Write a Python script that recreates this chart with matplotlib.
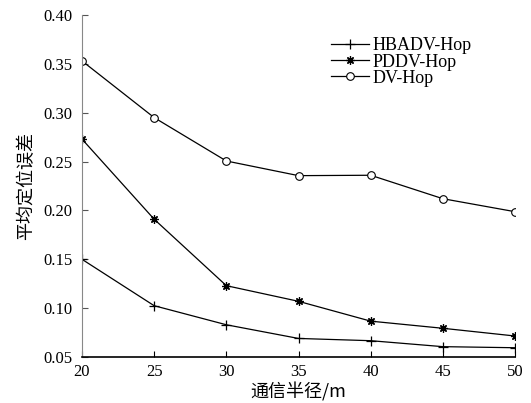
import matplotlib
matplotlib.use("Agg")
import matplotlib.pyplot as plt

# communication radius (m)
radius = [20, 25, 30, 35, 40, 45, 50]

# average localization error
hbadv_hop = [0.150, 0.1025, 0.083, 0.069, 0.0667, 0.0606, 0.0595]
pddv_hop = [0.273, 0.191, 0.123, 0.107, 0.0867, 0.0794, 0.0715]
dv_hop = [0.353, 0.295, 0.2506, 0.2356, 0.236, 0.212, 0.1987]

yticks = [0.05, 0.10, 0.15, 0.20, 0.25, 0.30, 0.35, 0.40]

plt.rcParams['font.family'] = ['Liberation Serif', 'Noto Sans CJK SC']

fig = plt.figure(figsize=(5.31, 4.03), dpi=100)
ax = fig.add_axes([0.1544, 0.1141, 0.8156, 0.8487])

ax.plot(radius, hbadv_hop, color="black", lw=0.9, marker="+", ms=6.5, mew=0.9, label="HBADV-Hop")
ax.plot(radius, pddv_hop, color="black", lw=0.9, marker=(8, 2, 0), ms=6, mew=0.9, label="PDDV-Hop")
ax.plot(radius, dv_hop, color="black", lw=0.9, marker="o", ms=5.5, mfc="white", mew=0.8, label="DV-Hop")

ax.set_xlim(20, 50)
ax.set_ylim(0.05, 0.40)
ax.set_xticks(radius)
ax.set_yticks(yticks)
ax.set_yticklabels(["%.2f" % v for v in yticks])

# only left and bottom axes, ticks pointing inward
ax.spines["top"].set_visible(False)
ax.spines["right"].set_visible(False)
ax.spines["left"].set_color("#888888")
ax.spines["bottom"].set_linewidth(1.2)
ax.tick_params(direction="in", length=4, labelsize=12, colors="black")
ax.tick_params(axis="y", color="#555555", pad=7)
ax.tick_params(axis="x", pad=5)

ax.set_xlabel("通信半径/m", fontsize=13, family=['Noto Sans CJK SC'], labelpad=1.5)
ax.set_ylabel("平均定位误差", fontsize=13, family=['Noto Sans CJK SC'], labelpad=6)

ax.legend(loc="upper right", bbox_to_anchor=(0.90, 0.935), frameon=False, fontsize=13,
          handlelength=2.1, handletextpad=0.2, labelspacing=-0.04, borderaxespad=0,
          borderpad=0)

fig.savefig("out.png", dpi=100)
